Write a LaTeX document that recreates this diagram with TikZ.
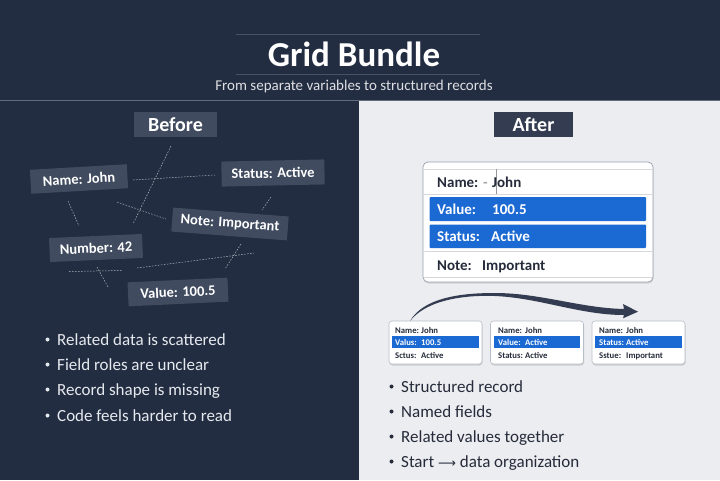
\documentclass[tikz,border=0pt]{standalone}
\usepackage{fontspec}
\setmainfont{Carlito}
\newfontfamily\arrowfont{DejaVu Sans}
\usetikzlibrary{calc}
\usetikzlibrary{shadows}
\definecolor{navy}{HTML}{222D42}
\definecolor{paper}{HTML}{ECEDF0}
\definecolor{slatebox}{HTML}{404B5F}
\definecolor{darkbox}{HTML}{333C50}
\definecolor{barblue}{HTML}{1B69D3}
\definecolor{inkdark}{HTML}{252B3A}
\definecolor{rulegray}{HTML}{D6D8DC}
\definecolor{cardedge}{HTML}{98A1B0}
\definecolor{bulletlight}{HTML}{E6E9EE}
\tikzset{
  scatterbox/.style={fill=slatebox,text=white,inner sep=0pt,font=\fontsize{14.5}{16}\selectfont\bfseries},
  strayline/.style={white,opacity=0.65,line width=0.5pt,dash pattern=on 1.6pt off 1.4pt},
  headbox/.style={inner sep=0pt,text=white,minimum height=25pt,font=\fontsize{20}{22}\selectfont\bfseries},
  bigcard/.style={draw=cardedge,line width=0.7pt,fill=white,rounded corners=5pt,inner sep=0pt,drop shadow={opacity=0.25,shadow xshift=0.5pt,shadow yshift=-1.5pt}},
  smallcard/.style={draw=cardedge!70,line width=0.6pt,fill=white,rounded corners=3pt,inner sep=0pt,minimum width=93pt,minimum height=43pt,drop shadow={opacity=0.3,shadow xshift=0.5pt,shadow yshift=-1.5pt}},
  bigtext/.style={anchor=base west,inner sep=0pt,font=\fontsize{15}{17}\selectfont\bfseries},
  tinytext/.style={anchor=base west,inner sep=0pt,font=\fontsize{8.7}{10}\selectfont\bfseries},
  bullettext/.style={anchor=base west,inner sep=0pt,font=\fontsize{17}{19}\selectfont},
}
\begin{document}
\begin{tikzpicture}[x=1pt,y=-1pt]
    \useasboundingbox (0,0) rectangle (720,480);
    % panels
    \fill [navy] (0,0) rectangle (720,480);
    \fill [paper] (359,101) rectangle (720,480);
    \draw [white!30!navy,line width=0.8pt] (0,100.5) -- (720,100.5);
    \draw [white!18!navy,line width=0.6pt] (236,34) -- (480,34);
    \draw [white!18!navy,line width=0.6pt] (236,74) -- (480,74);

    % title
    \node [text=white,inner sep=0pt,font=\fontsize{35}{37}\selectfont\bfseries] (title) at (354,54) {Grid Bundle};
    \node [text=white!85!navy,inner sep=0pt,font=\fontsize{15}{17}\selectfont] (subtitle) at (354,86) {From separate variables to structured records};

    % before
    \node [headbox,fill=slatebox,minimum width=83pt] (before) at (175.5,124.5) {Before};
    \draw [strayline] (171,146) -- (133,224);
    \draw [strayline] (133,180) -- (215,175);
    \draw [strayline] (117,202) -- (166,219);
    \draw [strayline] (271,197) -- (262,210);
    \draw [strayline] (68,201) -- (79,226);
    \draw [strayline] (241,244) -- (225,269);
    \draw [strayline] (137,268) -- (254,253);
    \draw [strayline] (69,271.5) -- (122,270.5);
    \draw [strayline] (97,267) -- (108,287);
    \node [scatterbox,minimum width=97pt,minimum height=24pt,rotate=3.3] (name) at (79,179) {Name: John};
    \node [scatterbox,minimum width=103pt,minimum height=25pt,rotate=1.2] (status) at (273,173) {Status: Active};
    \node [scatterbox,minimum width=116pt,minimum height=24pt,rotate=-4.4] (note) at (230,224) {Note: Important};
    \node [scatterbox,minimum width=93pt,minimum height=24pt,rotate=2.5] (number) at (96,248) {Number: 42};
    \node [scatterbox,minimum width=100pt,minimum height=24pt,rotate=2.7] (value) at (178,292) {Value: 100.5};

    \foreach \y/\txt in {345/Related data is scattered,370/Field roles are unclear,395/Record shape is missing,421/Code feels harder to read} {
      \fill [bulletlight] (47.5,\y-5.5) circle [radius=2];
      \node [bullettext,text=bulletlight] at (57,\y) {\txt};
    }

    % after
    \node [headbox,fill=darkbox,minimum width=79pt] (after) at (533.5,124.5) {After};
    \node [bigcard,minimum width=230pt,minimum height=120pt] (record) at (538,222) {};
    \foreach \y in {169,194,251,277}
      \draw [rulegray,line width=0.5pt] (424,\y) -- (652,\y);
    \draw [rulegray!70!black,line width=0.4pt] (496.5,169) -- (496.5,194);
    \fill [barblue,rounded corners=1pt] (429.5,197) rectangle (646,221);
    \fill [barblue,rounded corners=1pt] (429.5,224.5) rectangle (646,248);
    \node [bigtext,text=inkdark] at (437,187) {Name:};
    \node [bigtext,text=gray!70] at (483,187) {-};
    \node [bigtext,text=inkdark] at (492,187) {John};
    \node [bigtext,text=white] at (437,214) {Value:};
    \node [bigtext,text=white] at (492,214) {100.5};
    \node [bigtext,text=white] at (437,241) {Status:};
    \node [bigtext,text=white] at (491,241) {Active};
    \node [bigtext,text=inkdark] at (437,270) {Note:};
    \node [bigtext,text=inkdark] at (482,270) {Important};

    % small records
    \node [smallcard] (recA) at (435.5,342.5) {};
    \node [smallcard] (recB) at (537,342.5) {};
    \node [smallcard] (recC) at (638.5,342.5) {};
    \fill [barblue] (392,336) rectangle (479,348);
    \fill [barblue] (494,336) rectangle (580,348);
    \fill [barblue] (595,336) rectangle (682,347.5);
    \foreach \x/\col/\a/\b/\c/\d/\e/\f in {
      395/421/Name:/John/Valus:/100.5/Sctus:/Active,
      498/525/Name:/John/Value:/Active/Status:/Active,
      599/626/Name:/John/Status:/Active/Sstue:/Important} {
      \node [tinytext,text=inkdark] at (\x,333) {\a};
      \node [tinytext,text=inkdark] at (\col,333) {\b};
      \node [tinytext,text=white] at (\x,345) {\c};
      \node [tinytext,text=white] at (\col,345) {\d};
      \node [tinytext,text=inkdark] at (\x,358) {\e};
      \node [tinytext,text=inkdark] at (\col,358) {\f};
    }

    % bundle arrow
    \coordinate (arrowstart) at (410,321);
    \coordinate (arrowtip) at (638,311.7);
    \fill [darkbox] (arrowstart) .. controls (425,295) and (470,293) .. (495,293)
      .. controls (540,293) and (580,308) .. (624,309)
      -- (623,304) -- (arrowtip) -- (623,318.3) -- (624,315)
      .. controls (580,315) and (540,298) .. (495,296)
      .. controls (470,295) and (428,298) .. (arrowstart) -- cycle;

    \foreach \y/\txt in {392/Structured record,417/Named fields,442/Related values together,467/Start {\arrowfont\fontsize{12.5}{14}\selectfont ⟶} data organization} {
      \fill [inkdark] (391.5,\y-5.5) circle [radius=2];
      \node [bullettext,text=inkdark] at (401,\y) {\txt};
    }
\end{tikzpicture}
\end{document}
